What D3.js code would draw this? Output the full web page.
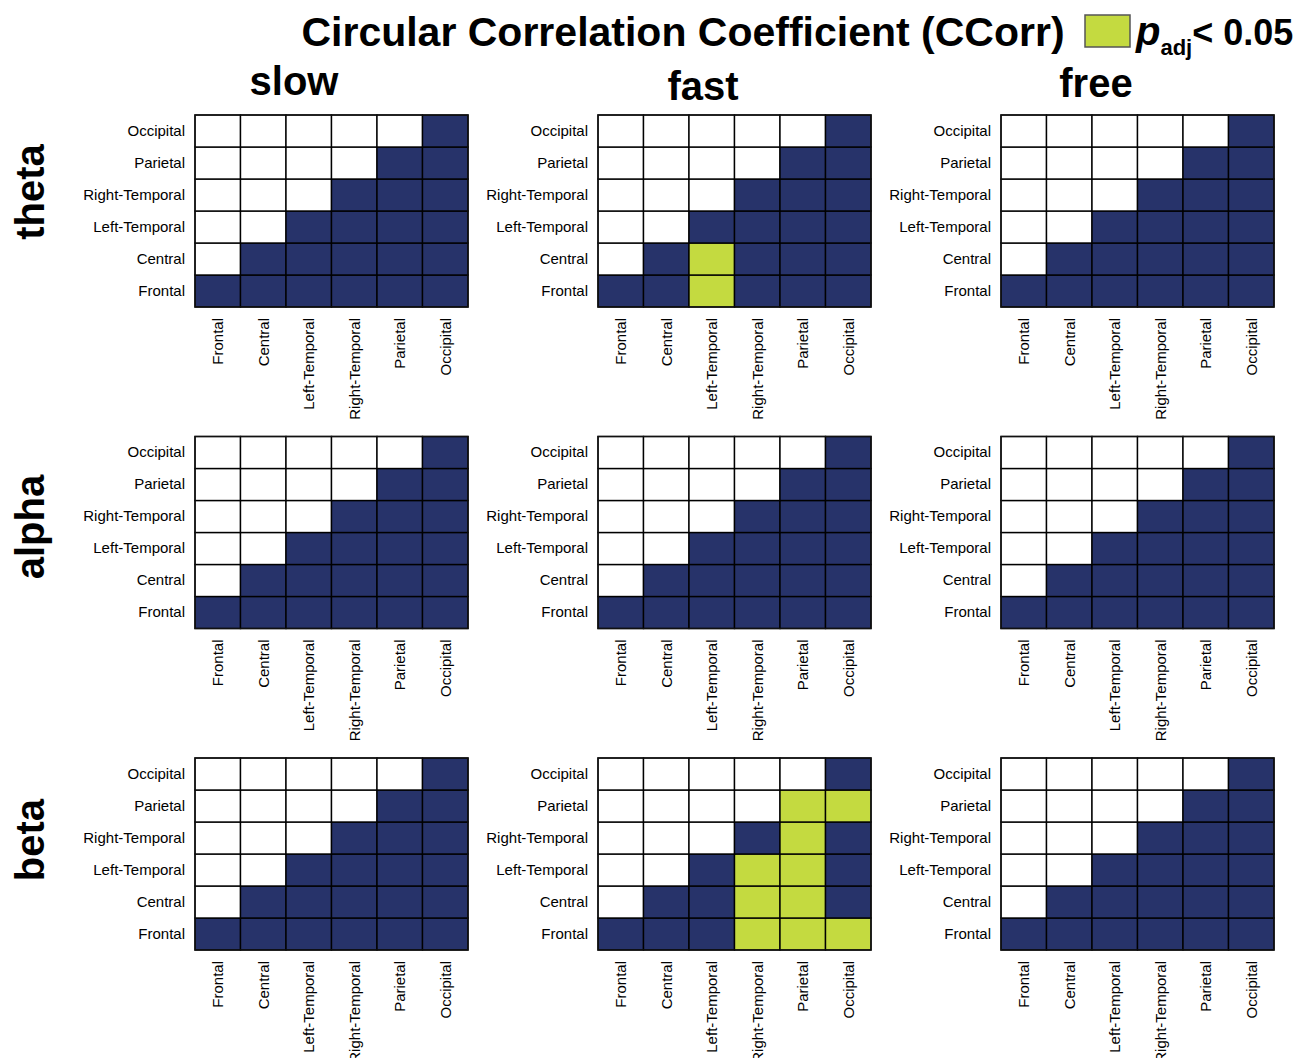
<!DOCTYPE html>
<html>
<head>
<meta charset="utf-8">
<script src="https://cdn.jsdelivr.net/npm/d3@7"></script>
<style>
  html, body { margin: 0; padding: 0; background: #fff; }
  svg { display: block; font-family: "Liberation Sans", Arial, Helvetica, sans-serif; }
</style>
</head>
<body>
<svg id="chart" width="1297" height="1058"></svg>
<script>
// Brain regions, in the order used on both axes
const regions = ["Frontal", "Central", "Left-Temporal", "Right-Temporal", "Parietal", "Occipital"];
const bands = ["theta", "alpha", "beta"];
const conditions = ["slow", "fast", "free"];

// Which pairs are tested: mask[row][col], rows from Frontal (0) to Occipital (5)
const mask = [
  [1, 1, 1, 1, 1, 1],
  [0, 1, 1, 1, 1, 1],
  [0, 0, 1, 1, 1, 1],
  [0, 0, 0, 1, 1, 1],
  [0, 0, 0, 0, 1, 1],
  [0, 0, 0, 0, 0, 1]
];

// Significant pairs (p_adj < 0.05), as [rowRegion, colRegion]
const sigThetaSlow = [];
const sigThetaFast = [["Frontal", "Left-Temporal"], ["Central", "Left-Temporal"]];
const sigThetaFree = [];
const sigAlphaSlow = [];
const sigAlphaFast = [];
const sigAlphaFree = [];
const sigBetaSlow = [];
const sigBetaFast = [
  ["Frontal", "Right-Temporal"], ["Frontal", "Parietal"], ["Frontal", "Occipital"],
  ["Central", "Right-Temporal"], ["Central", "Parietal"],
  ["Left-Temporal", "Right-Temporal"], ["Left-Temporal", "Parietal"],
  ["Right-Temporal", "Parietal"],
  ["Parietal", "Parietal"], ["Parietal", "Occipital"]
];
const sigBetaFree = [];

const sigByPanel = {
  theta: { slow: sigThetaSlow, fast: sigThetaFast, free: sigThetaFree },
  alpha: { slow: sigAlphaSlow, fast: sigAlphaFast, free: sigAlphaFree },
  beta:  { slow: sigBetaSlow,  fast: sigBetaFast,  free: sigBetaFree }
};

const NAVY = "#27336a";
const GREEN = "#c4da40";

const svg = d3.select("#chart");

// Panel placement
const panelW = 273, panelH = 192;
const colX = d3.scalePoint().domain(conditions).range([195, 1001]);
const rowY = d3.scalePoint().domain(bands).range([115, 758]);

const x = d3.scaleBand().domain(regions).range([0, panelW]).padding(0);
const y = d3.scaleBand().domain(regions.slice().reverse()).range([0, panelH]).padding(0);

bands.forEach(band => {
  conditions.forEach(cond => {
    const g = svg.append("g")
      .attr("transform", `translate(${colX(cond)},${rowY(band)})`);

    const sigSet = new Set(sigByPanel[band][cond].map(d => d[0] + "|" + d[1]));
    const cells = [];
    regions.forEach((rr, ri) => {
      regions.forEach((cr, ci) => {
        const tested = mask[ri][ci] === 1;
        const sig = sigSet.has(rr + "|" + cr);
        cells.push({ row: rr, col: cr, fill: sig ? GREEN : (tested ? NAVY : "#ffffff") });
      });
    });

    g.selectAll("rect.cell")
      .data(cells)
      .join("rect")
      .attr("class", "cell")
      .attr("x", d => x(d.col))
      .attr("y", d => y(d.row))
      .attr("width", x.bandwidth())
      .attr("height", y.bandwidth())
      .attr("fill", d => d.fill)
      .attr("stroke", "#000")
      .attr("stroke-width", 1.4);

    // outer frame
    g.append("rect")
      .attr("width", panelW).attr("height", panelH)
      .attr("fill", "none").attr("stroke", "#111").attr("stroke-width", 1.4);

    // y axis labels
    const yAxis = d3.axisLeft(y).tickSize(0).tickPadding(10);
    g.append("g").call(yAxis)
      .call(a => a.select(".domain").remove())
      .selectAll("text")
      .attr("font-size", 15)
      .attr("font-family", "Liberation Sans, Arial, sans-serif")
      .attr("fill", "#000");

    // x axis labels, rotated
    const xAxis = d3.axisBottom(x).tickSize(0).tickPadding(0);
    g.append("g").attr("transform", `translate(0,${panelH})`).call(xAxis)
      .call(a => a.select(".domain").remove())
      .selectAll("text")
      .attr("font-size", 15)
      .attr("font-family", "Liberation Sans, Arial, sans-serif")
      .attr("fill", "#000")
      .attr("text-anchor", "end")
      .attr("dy", "0.35em")
      .attr("dx", 0)
      .attr("x", -11)
      .attr("y", 0)
      .attr("transform", "rotate(-90)");
  });
});

// Column titles
const colTitlePos = { slow: [294, 95], fast: [703, 100], free: [1096, 97] };
conditions.forEach(c => {
  svg.append("text")
    .attr("x", colTitlePos[c][0]).attr("y", colTitlePos[c][1])
    .attr("text-anchor", "middle")
    .attr("font-size", 40).attr("font-weight", "bold")
    .text(c);
});

// Row titles
const rowTitleY = { theta: 192, alpha: 527, beta: 840 };
bands.forEach(b => {
  svg.append("text")
    .attr("transform", `translate(44,${rowTitleY[b]}) rotate(-90)`)
    .attr("text-anchor", "middle")
    .attr("font-size", 40).attr("font-weight", "bold")
    .text(b);
});

// Main title
svg.append("text")
  .attr("x", 683).attr("y", 46)
  .attr("text-anchor", "middle")
  .attr("font-size", 41).attr("font-weight", "bold")
  .text("Circular Correlation Coefficient (CCorr)");

// Legend
svg.append("rect")
  .attr("x", 1085).attr("y", 15).attr("width", 45).attr("height", 32)
  .attr("fill", GREEN).attr("stroke", "#555").attr("stroke-width", 1.5);

const leg = svg.append("text")
  .attr("x", 1136).attr("y", 45)
  .attr("font-weight", "bold");
leg.append("tspan").attr("font-size", 40).attr("font-style", "italic").text("p");
leg.append("tspan").attr("font-size", 22).attr("dy", 10).text("adj");
leg.append("tspan").attr("font-size", 36).attr("dy", -10).text("< 0.05");
</script>
</body>
</html>
